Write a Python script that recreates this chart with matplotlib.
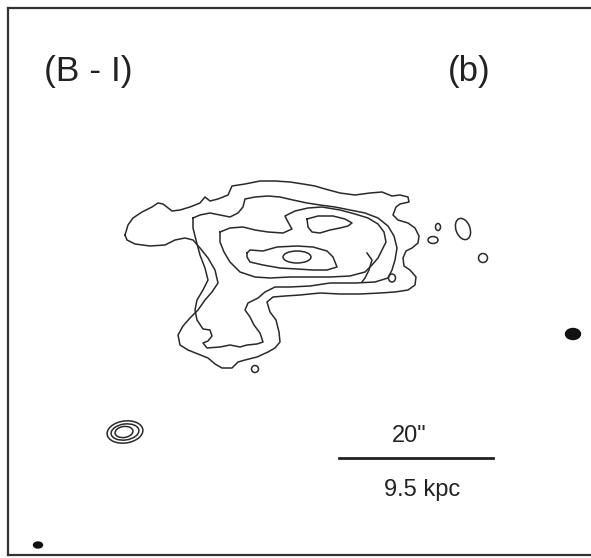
import matplotlib
matplotlib.use("Agg")
import matplotlib.pyplot as plt
from matplotlib.patches import Ellipse

plt.rcParams['font.family'] = ['Liberation Sans', 'DejaVu Sans']

# Isophote outlines of the (B - I) colour map, in map pixel coordinates (x right, y down)
level1_outer = [(125,235),(128,225),(133,218),(142,212),(152,207),(158,203),(163,204),(172,211),(180,210),
    (190,207),(200,203),(205,197),(210,201),(218,199),(228,195),(232,186),(245,184),(260,181),(275,181),
    (290,182),(303,184),(315,186),(325,189),(340,193),(355,195),(370,193),(382,192),(392,196),(400,195),
    (408,197),(409,202),(400,204),(396,207),(393,215),(398,220),(408,223),(415,228),(419,236),(418,243),
    (412,248),(406,251),(403,258),(404,266),(410,270),(416,277),(415,285),(408,290),(395,292),(380,293),
    (360,294),(340,294),(320,293),(300,295),(285,296),(273,297),(267,302),(270,312),(276,320),(279,332),
    (280,342),(275,348),(268,352),(257,357),(245,360),(238,362),(232,368),(222,368),(215,364),(208,358),
    (198,354),(188,350),(180,345),(178,335),(183,326),(190,318),(198,310),(205,300),(212,292),(218,283),
    (215,270),(208,258),(200,248),(193,240),(185,238),(175,240),(165,245),(150,246),(135,244),(127,240),
    (125,235)]

level2 = [(193,218),(200,215),(210,213),(220,215),(230,217),(238,213),(243,207),(245,199),(255,197),
    (268,196),(280,197),(293,200),(307,203),(320,205),(335,207),(350,210),(365,213),(378,218),(388,226),
    (394,236),(397,248),(395,260),(392,270),(388,278),(375,282),(355,283),(330,283),(310,286),(290,287),
    (275,287),(265,292),(258,298),(248,303),(245,310),(250,317),(254,325),(260,333),(263,342),(257,344),
    (247,345),(240,347),(230,345),(220,347),(207,348),(203,343),(208,341),(212,336),(210,330),(203,329),
    (197,320),(195,310),(197,300),(203,290),(208,280),(205,268),(200,255),(196,240),(193,228),(193,218)]

level3 = [(220,232),(230,228),(243,227),(255,230),(268,232),(283,233),(292,229),(288,222),(285,216),
    (295,211),(308,208),(322,207),(340,210),(355,214),(368,218),(378,224),(384,232),(386,242),(382,250),
    (378,258),(372,265),(365,272),(350,276),(330,277),(310,277),(290,277),(270,278),(255,277),(240,272),
    (230,262),(224,252),(220,242),(220,232)]

level4_north = [(307,219),(318,216),(333,216),(345,219),(352,223),(348,226),(340,228),(330,230),
    (320,233),(312,232),(308,227),(307,219)]

level4_core = [(247,253),(250,250),(263,251),(277,247),(297,246),(313,247),(327,251),(333,257),
    (337,267),(327,270),(313,270),(297,269),(280,268),(263,265),(250,262),(247,257),(247,253)]

# Small open fragments inside the eastern side of the galaxy
fragment_east = [(367,253),(372,260),(369,270),(365,278),(362,282)]

# Compact closed features: centre x, centre y, width, height, angle
ellipse_x = [297, 438, 433, 463, 483, 392, 255, 125, 125, 124]
ellipse_y = [257, 227, 240, 229, 258, 278, 369, 432, 432, 432]
ellipse_w = [28, 5, 10, 14, 9, 7, 7, 36, 28, 18]
ellipse_h = [12, 7, 7, 22, 9, 8, 7, 22, 16, 11]
ellipse_a = [0, 0, 0, -20, 0, 0, 0, -8, -8, -8]

# Solid (saturated) knots
knot_x = [573, 38]
knot_y = [334, 545]
knot_w = [15, 9]
knot_h = [11, 6]

fig = plt.figure(figsize=(5.91, 5.58), dpi=100)
ax = fig.add_axes([7.5/591, 3.5/558, 600/591, 547/558])
ax.set_xlim(7.5, 607.5)
ax.set_ylim(554.5, 7.5)
ax.set_xticks([])
ax.set_yticks([])
for s in ax.spines.values():
    s.set_linewidth(1.6)
    s.set_color('#333333')

line_kw = dict(color='#2a2a2a', lw=1.1, solid_joinstyle='round')
for contour in (level1_outer, level2, level3, level4_north, level4_core, fragment_east):
    xs, ys = zip(*contour)
    ax.plot(xs, ys, **line_kw)

for x, y, w, h, a in zip(ellipse_x, ellipse_y, ellipse_w, ellipse_h, ellipse_a):
    ax.add_patch(Ellipse((x, y), w, h, angle=a, fill=False, ec='#2a2a2a', lw=1.1))

for x, y, w, h in zip(knot_x, knot_y, knot_w, knot_h):
    ax.add_patch(Ellipse((x, y), w, h, fc='#111111', ec='#111111'))

ax.text(44, 72, '(B - I)', fontsize=25.5, ha='left', va='center', color='#222222')
ax.text(448, 72, '(b)', fontsize=25, ha='left', va='center', color='#222222')

# Scale bar
ax.plot([339, 493], [458, 458], color='#222222', lw=2)
ax.text(409, 436, '20"', fontsize=17, ha='center', va='center', color='#222222')
ax.text(422, 490, '9.5 kpc', fontsize=17, ha='center', va='center', color='#222222')

fig.savefig('out.png', dpi=100)
